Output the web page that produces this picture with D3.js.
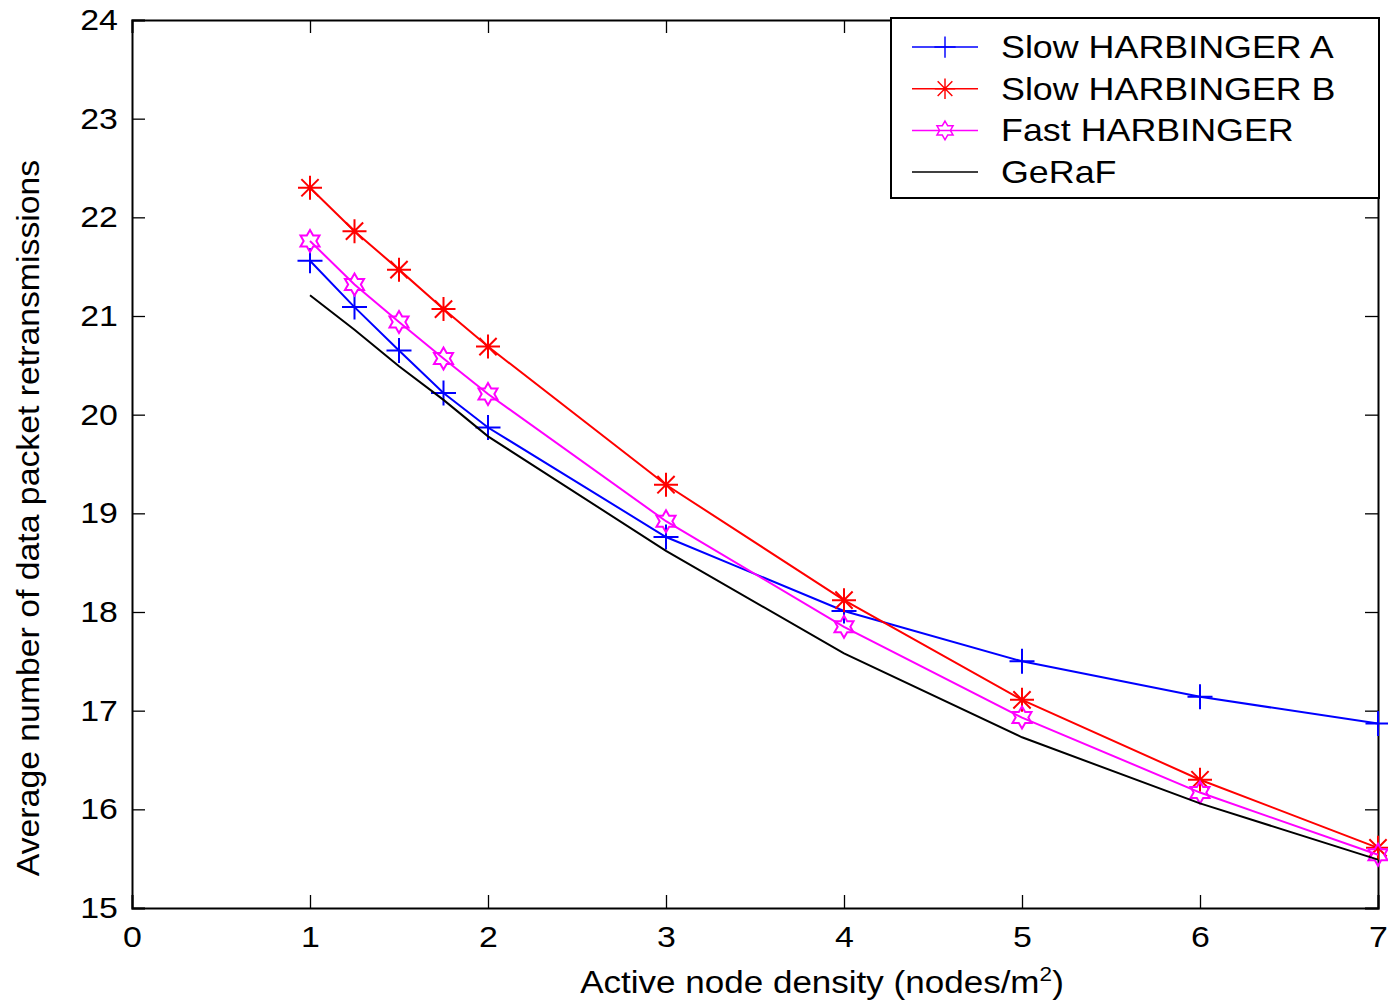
<!DOCTYPE html>
<html>
<head>
<meta charset="utf-8">
<script src="https://cdn.jsdelivr.net/npm/d3@7"></script>
<style>
  body { margin: 0; background: #fff; }
  text { font-family: "Liberation Sans", Arial, sans-serif; fill: #000; }
</style>
</head>
<body>
<div id="root"></div>
<script>
// data
const densities = [1, 1.25, 1.5, 1.75, 2, 3, 4, 5, 6, 7];
const slowA = [21.56, 21.09, 20.65, 20.22, 19.87, 18.76, 18.01, 17.50, 17.14, 16.87];
const slowB = [22.30, 21.86, 21.47, 21.07, 20.69, 19.29, 18.12, 17.11, 16.30, 15.61];
const fastH = [21.76, 21.32, 20.94, 20.57, 20.21, 18.92, 17.85, 16.93, 16.17, 15.54];
const geraf = [21.21, 20.86, 20.49, 20.15, 19.78, 18.62, 17.58, 16.73, 16.06, 15.49];
const seriesNames = ["Slow HARBINGER A", "Slow HARBINGER B", "Fast HARBINGER", "GeRaF"];
const xTicks = [0, 1, 2, 3, 4, 5, 6, 7];
const yTicks = [15, 16, 17, 18, 19, 20, 21, 22, 23, 24];

const W = 1388, H = 1001;
const margin = { top: 20, right: 10, bottom: 93, left: 132 };
const width = W - margin.left - margin.right;
const height = H - margin.top - margin.bottom;
const stretch = 1.13; // the original text is a bit wider than Arial

const x = d3.scaleLinear().domain([0, 7]).range([0, width]);
const y = d3.scaleLinear().domain([15, 24]).range([height, 0]);

const svg = d3.select("#root").append("svg")
  .attr("width", W).attr("height", H);

const g = svg.append("g").attr("transform", `translate(${margin.left},${margin.top})`);

// inward ticks on all four sides, matlab style
const tickLen = 13;
const axB = g.append("g").attr("transform", `translate(0,${height})`)
  .call(d3.axisBottom(x).tickValues(xTicks).tickSize(-tickLen).tickPadding(18).tickFormat(d3.format("d")));
const axT = g.append("g")
  .call(d3.axisTop(x).tickValues(xTicks).tickSize(-tickLen).tickFormat(""));
const axL = g.append("g")
  .call(d3.axisLeft(y).tickValues(yTicks).tickSize(-tickLen).tickPadding(12.5).tickFormat(d3.format("d")));
const axR = g.append("g").attr("transform", `translate(${width},0)`)
  .call(d3.axisRight(y).tickValues(yTicks).tickSize(-tickLen).tickFormat(""));

[axB, axT, axL, axR].forEach(a => {
  a.select(".domain").attr("stroke", "#000").attr("stroke-width", 2);
  a.selectAll(".tick line").attr("stroke", "#000").attr("stroke-width", 1.3);
  a.selectAll(".tick text").attr("font-size", 30)
    .attr("font-family", "Liberation Sans, Arial, sans-serif").attr("fill", "#000")
    .attr("transform", `scale(${stretch},1)`);
});

// marker shapes
const plusPath = s => `M${-s},0H${s}M0,${-s}V${s}`;
const starPath = s => {
  const d = s * 0.72;
  return `M${-s},0H${s}M0,${-s}V${s}M${-d},${-d}L${d},${d}M${-d},${d}L${d},${-d}`;
};
const hexPath = r => {
  const pts = [];
  for (let i = 0; i < 12; i++) {
    const a = -Math.PI / 2 + i * Math.PI / 6;
    const rr = i % 2 === 0 ? r : r / Math.sqrt(3);
    pts.push([rr * Math.cos(a), rr * Math.sin(a)]);
  }
  return "M" + pts.map(p => p.join(",")).join("L") + "Z";
};

const series = [
  { name: seriesNames[0], values: slowA, color: "#0000ff", marker: plusPath(12.5) },
  { name: seriesNames[1], values: slowB, color: "#ff0000", marker: starPath(12) },
  { name: seriesNames[2], values: fastH, color: "#ff00ff", marker: hexPath(11) },
  { name: seriesNames[3], values: geraf, color: "#000000", marker: null }
];

const line = d3.line().x(d => x(d[0])).y(d => y(d[1]));

series.forEach(s => {
  const pts = densities.map((d, i) => [d, s.values[i]]);
  g.append("path").datum(pts)
    .attr("d", line)
    .attr("fill", "none")
    .attr("stroke", s.color)
    .attr("stroke-width", 2);
  if (s.marker) {
    g.selectAll(null).data(pts).enter().append("path")
      .attr("transform", d => `translate(${x(d[0])},${y(d[1])})`)
      .attr("d", s.marker)
      .attr("fill", "none")
      .attr("stroke", s.color)
      .attr("stroke-width", 2);
  }
});

// legend
const leg = svg.append("g").attr("transform", "translate(891,18)");
leg.append("rect").attr("width", 488).attr("height", 180)
  .attr("fill", "#fff").attr("stroke", "#000").attr("stroke-width", 2);
series.forEach((s, i) => {
  const ly = 29 + i * 41.7;
  leg.append("line").attr("x1", 21).attr("x2", 87).attr("y1", ly).attr("y2", ly)
    .attr("stroke", s.color).attr("stroke-width", 1.5);
  if (s.marker) {
    leg.append("path")
      .attr("d", s.marker).attr("fill", "none")
      .attr("stroke", s.color).attr("stroke-width", 1.7)
      .attr("transform", `translate(54,${ly}) scale(0.85)`);
  }
  leg.append("text").attr("x", 110).attr("y", ly + 11)
    .attr("font-size", 32)
    .attr("transform", `translate(${110 * (1 - 1.12)},0) scale(1.12,1)`)
    .text(s.name);
});

// axis titles
const xl = svg.append("text")
  .attr("x", 0).attr("y", 993)
  .attr("text-anchor", "middle").attr("font-size", 31)
  .attr("transform", `translate(822,0) scale(${stretch},1)`);
xl.append("tspan").text("Active node density (nodes/m");
xl.append("tspan").attr("dy", -12).attr("font-size", 20).text("2");
xl.append("tspan").attr("dy", 12).text(")");

svg.append("text")
  .attr("transform", "translate(39,518) rotate(-90) scale(1.09,1)")
  .attr("text-anchor", "middle").attr("font-size", 31)
  .text("Average number of data packet retransmissions");
</script>
</body>
</html>
